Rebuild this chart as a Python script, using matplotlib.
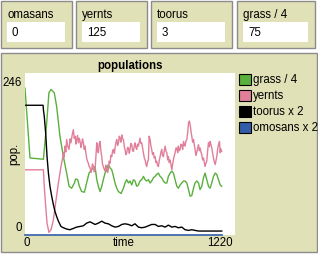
import matplotlib
matplotlib.use("Agg")
import matplotlib.pyplot as plt
from matplotlib.patches import Rectangle

plt.rcParams["font.family"] = ["Liberation Sans", "DejaVu Sans"]

# monitor widgets
monitor_names = ["omasans", "yernts", "toorus", "grass / 4"]
monitor_values = ["0", "125", "3", "75"]

# plot series (time, value)
grass_t = [0, 29, 107, 126, 139, 151, 170, 184, 203, 223, 242, 256, 271, 287, 294, 306, 316, 329, 345, 358,
           372, 387, 407, 417, 426, 436, 446, 455, 465, 475, 484, 494, 504, 514, 523, 533, 543, 558, 572, 581,
           591, 601, 610, 620, 630, 639, 649, 659, 668, 678, 688, 698, 707, 717, 727, 736, 746, 756, 765, 775,
           785, 794, 804, 814, 824, 833, 843, 853, 862, 872, 882, 891, 901, 911, 921, 930, 940, 950, 959, 969,
           979, 988, 998, 1008, 1017, 1027, 1037, 1046, 1056, 1066, 1075, 1085, 1095, 1105, 1114, 1124, 1134, 1143]
grass_v = [223, 117, 115, 170, 216, 221, 216, 195, 150, 119, 94, 74, 71, 79, 85, 84, 74, 66, 65, 79,
           94, 99, 104, 84, 74, 66, 74, 84, 94, 99, 107, 102, 99, 89, 79, 71, 66, 63, 71, 79,
           84, 79, 82, 76, 84, 82, 74, 76, 82, 84, 89, 84, 82, 84, 79, 82, 87, 89, 92, 94,
           89, 87, 82, 79, 79, 89, 94, 97, 94, 84, 74, 71, 76, 79, 82, 82, 79, 69, 59, 60,
           71, 79, 82, 79, 69, 74, 87, 94, 84, 74, 71, 79, 89, 94, 92, 84, 76, 74]

yernts_t = [0, 107, 112, 120, 128, 139, 151, 165, 178, 194, 209, 218, 223, 227, 232, 237, 242, 249, 256, 262,
            267, 274, 281, 286, 291, 296, 300, 305, 310, 315, 320, 325, 329, 334, 339, 344, 349, 354, 358, 363,
            368, 373, 378, 383, 387, 392, 397, 402, 407, 412, 417, 421, 426, 431, 436, 441, 446, 450, 455, 460,
            465, 470, 475, 480, 484, 489, 494, 499, 504, 509, 514, 519, 523, 528, 533, 538, 543, 548, 552, 557,
            562, 567, 572, 577, 581, 586, 591, 596, 601, 606, 610, 615, 620, 625, 630, 635, 639, 644, 649, 654,
            659, 664, 668, 673, 678, 683, 688, 693, 698, 702, 707, 713, 717, 721, 727, 731, 736, 741, 746, 751,
            756, 761, 765, 770, 775, 780, 785, 790, 794, 799, 804, 809, 814, 819, 824, 829, 833, 838, 843, 848,
            853, 858, 862, 867, 872, 877, 882, 887, 891, 896, 901, 906, 911, 916, 921, 926, 930, 935, 940, 945,
            950, 955, 961, 965, 969, 974, 979, 984, 988, 993, 998, 1003, 1008, 1013, 1017, 1022, 1027, 1032, 1037,
            1042, 1046, 1051, 1056, 1061, 1066, 1071, 1075, 1080, 1085, 1090, 1095, 1100, 1105, 1110, 1114, 1119,
            1124, 1130, 1134, 1137, 1143]
yernts_v = [99, 99, 74, 44, 18, 4, 8, 23, 49, 79, 104, 116, 125, 118, 135, 126, 145, 134, 130, 146,
            140, 152, 160, 147, 150, 138, 145, 151, 140, 147, 142, 133, 137, 146, 141, 130, 135, 124, 117, 112,
            109, 104, 102, 95, 99, 108, 104, 96, 99, 120, 140, 128, 125, 138, 142, 127, 119, 108, 104, 100,
            97, 106, 102, 95, 99, 112, 109, 121, 119, 128, 130, 124, 132, 140, 145, 136, 140, 150, 147, 141,
            152, 146, 145, 134, 130, 122, 125, 133, 132, 124, 130, 139, 137, 128, 127, 136, 140, 133, 130, 138,
            135, 142, 147, 139, 140, 132, 125, 117, 114, 108, 104, 112, 114, 150, 145, 136, 130, 122, 125, 117,
            119, 110, 112, 106, 104, 113, 119, 126, 130, 121, 119, 128, 135, 127, 125, 114, 119, 110, 114, 106,
            99, 108, 114, 120, 125, 132, 132, 125, 135, 128, 130, 138, 137, 130, 142, 136, 135, 143, 145, 155,
            170, 173, 165, 156, 150, 141, 145, 136, 130, 121, 125, 132, 137, 128, 132, 126, 122, 114, 117,
            110, 104, 109, 112, 128, 140, 134, 142, 138, 132, 124, 117, 111, 107, 114, 119, 130,
            137, 142, 125, 131, 127]

toorus_t = [0, 105, 107, 112, 120, 128, 136, 145, 155, 165, 174, 184, 194, 209, 223, 242, 261, 281, 300, 320,
            339, 358, 378, 407, 426, 446, 465, 484, 504, 523, 543, 562, 581, 601, 620, 639, 659, 678, 698, 717,
            736, 756, 775, 794, 814, 833, 853, 872, 891, 911, 930, 950, 969, 988, 1008, 1143]
toorus_v = [197, 197, 190, 180, 155, 119, 94, 74, 59, 46, 36, 28, 21, 13, 11, 9, 8, 10, 12, 13,
            14, 18, 20, 16, 18, 21, 18, 17, 14, 12, 13, 16, 17, 16, 14, 17, 12, 11, 12, 14,
            16, 16, 13, 14, 12, 15, 12, 13, 11, 12, 8, 7, 8, 7, 6, 6]

omosans_t = [0, 1143]
omosans_v = [0, 0]

legend_names = ["grass / 4", "yernts", "toorus x 2", "omosans x 2"]
colors = ["#59b03c", "#e17f9b", "#000000", "#345da9"]

W, H = 318, 257
BEIGE = "#e1e1b8"
fig = plt.figure(figsize=(W / 100, H / 100), dpi=100)
fig.patch.set_facecolor("white")

# overlay in pixel coordinates
bg = fig.add_axes([0, 0, 1, 1])
bg.set_xlim(0, W)
bg.set_ylim(H, 0)
bg.axis("off")

fs = 8.3
monitor_boxes = [(1, 72), (76, 147), (151, 232), (237, 315)]
for (x0, x1), name, val in zip(monitor_boxes, monitor_names, monitor_values):
    bg.add_patch(Rectangle((x0, 1), x1 - x0, 47, facecolor=BEIGE, edgecolor="#8c8c8c", lw=1))
    bg.add_patch(Rectangle((x0 + 6, 22), x1 - x0 - 13, 20, facecolor="white", edgecolor="none"))
    bg.text(x0 + 6, 15, name, fontsize=fs, va="center", ha="left")
    bg.text(x0 + 11, 32.5, val, fontsize=fs, va="center", ha="left")

# plot widget
bg.add_patch(Rectangle((1, 53), 316, 199, facecolor=BEIGE, edgecolor="#8c8c8c", lw=1))
bg.text(130, 66, "populations", fontsize=fs, fontweight="bold", ha="center", va="center")
bg.text(22, 83, "246", fontsize=fs, ha="right", va="center")
bg.text(22, 228, "0", fontsize=fs, ha="right", va="center")
bg.text(27, 243, "0", fontsize=fs, ha="center", va="center")
bg.text(124, 243, "time", fontsize=fs, ha="center", va="center")
bg.text(233, 243, "1220", fontsize=fs, ha="right", va="center")
bg.text(14, 154, "pop.", fontsize=fs, ha="center", va="center", rotation=90)

for i, (name, c) in enumerate(zip(legend_names, colors)):
    y = 74 + 16 * i
    bg.add_patch(Rectangle((239, y), 12, 11, facecolor=c, edgecolor="black", lw=0.8))
    bg.text(253, y + 6, name, fontsize=fs, ha="left", va="center")

# plot area
ax = fig.add_axes([25 / W, (H - 235) / H, 210 / W, 162 / H])
ax.set_facecolor("white")
ax.set_xlim(0, 1220)
ax.set_ylim(0, 246)
for s in ax.spines.values():
    s.set_visible(False)
ax.set_xticks([])
ax.set_yticks([])

ax.plot(grass_t, grass_v, color=colors[0], lw=1)
ax.plot(yernts_t, yernts_v, color=colors[1], lw=1)
ax.plot(toorus_t, toorus_v, color=colors[2], lw=1)
ax.plot(omosans_t, omosans_v, color=colors[3], lw=1.2, clip_on=False)

fig.savefig("out.png", dpi=100)
